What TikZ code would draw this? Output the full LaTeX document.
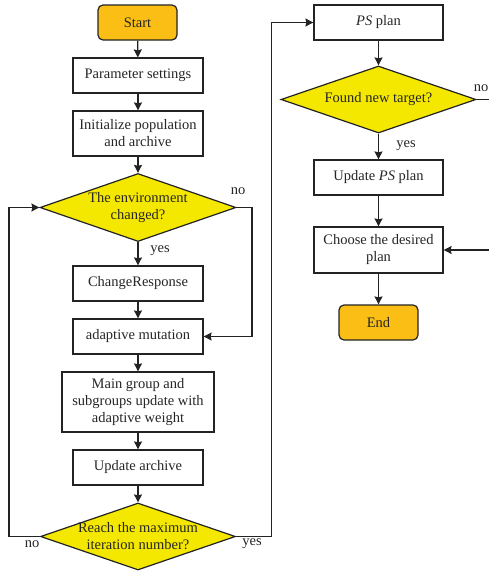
\documentclass[tikz,border=0pt]{standalone}
\usepackage{fontspec}
\setmainfont{Liberation Serif}
\usetikzlibrary{shapes.geometric,arrows.meta}
\definecolor{startfill}{RGB}{250,190,20}
\definecolor{decfill}{RGB}{245,232,0}
\definecolor{linecol}{RGB}{35,35,35}
\begin{document}
\begin{tikzpicture}[x=1pt,y=-1pt,
  every node/.style={font=\fontsize{14.5}{17}\selectfont, text=black!85},
  procbox/.style={draw=linecol, line width=1.2pt, fill=white, align=center, inner sep=0pt},
  termbox/.style={draw=linecol, line width=1.2pt, fill=startfill, rounded corners=5pt, inner sep=0pt},
  decbox/.style={diamond, draw=linecol, line width=1.2pt, fill=decfill, inner sep=0pt},
  arr/.style={draw=linecol, line width=1.2pt, -{Stealth[length=8pt,width=8pt,inset=1pt]}},
  lbl/.style={inner sep=0pt}]
\useasboundingbox (0,0) rectangle (489,573);
\clip (0,0) rectangle (489,573);
% left column
\node[termbox, minimum width=79pt, minimum height=35pt] (start) at (137.5,22.5) {Start};
\node[procbox, minimum width=130pt, minimum height=35pt] (param) at (138,75.5) {Parameter settings};
\node[procbox, minimum width=130pt, minimum height=45pt] (init) at (138,133.5) {Initialize population\\and archive};
\node[decbox, minimum width=196pt, minimum height=68pt] (env) at (138,207.5) {};
\node[align=center, inner sep=0pt] (envt) at (env) {The environment\\changed?};
\node[procbox, minimum width=130pt, minimum height=35pt] (chg) at (138,283.5) {ChangeResponse};
\node[procbox, minimum width=130pt, minimum height=35pt] (mut) at (138,336.5) {adaptive mutation};
\node[procbox, minimum width=152pt, minimum height=60pt] (main) at (138,402) {Main group and\\subgroups update with\\adaptive weight};
\node[procbox, minimum width=130pt, minimum height=35pt] (upd) at (138,467.5) {Update archive};
\node[decbox, minimum width=195pt, minimum height=67pt] (reach) at (138,536.5) {};
\node[align=center, inner sep=0pt] (reacht) at (reach) {Reach the maximum\\iteration number?};
% right column
\node[procbox, minimum width=129pt, minimum height=35pt] (ps) at (378.5,22.5) {\textit{PS} plan};
\node[decbox, minimum width=195pt, minimum height=67pt] (found) at (378.5,99.5) {};
\node[inner sep=0pt] (foundt) at (found) {Found new target?};
\node[procbox, minimum width=129pt, minimum height=35pt] (ups) at (378.5,177.5) {Update \textit{PS} plan};
\node[procbox, minimum width=129pt, minimum height=46pt] (choose) at (378.5,250) {Choose the desired\\plan};
\node[termbox, minimum width=79pt, minimum height=35pt] (end) at (378.5,322.5) {End};
% connectors
\draw[arr] (start) -- (param);
\draw[arr] (param) -- (init);
\draw[arr] (init) -- (env.north);
\draw[arr] (env.south) -- (chg);
\draw[arr] (chg) -- (mut);
\draw[arr] (mut) -- (main);
\draw[arr] (main) -- (upd);
\draw[arr] (upd) -- (reach.north);
\draw[arr] (env.east) -- (252,207.5) |- (mut.east);
\draw[arr] (reach.west) -- (9,536.5) |- (env.west);
\draw[arr] (reach.east) -- (271.5,536.5) |- (ps.west);
\draw[arr] (ps) -- (found.north);
\draw[arr] (found.south) -- (ups);
\draw[arr] (ups) -- (choose);
\draw[arr] (choose) -- (end);
\draw[arr] (found.east) -- (500,99.5) |- (choose.east);
% labels
\node[lbl] (l1) at (238,191) {no};
\node[lbl] (l2) at (160,251) {yes};
\node[lbl] (l3) at (32,544) {no};
\node[lbl] (l4) at (252,544) {yes};
\node[lbl] (l5) at (481,88) {no};
\node[lbl] (l6) at (406,146) {yes};
\end{tikzpicture}
\end{document}
